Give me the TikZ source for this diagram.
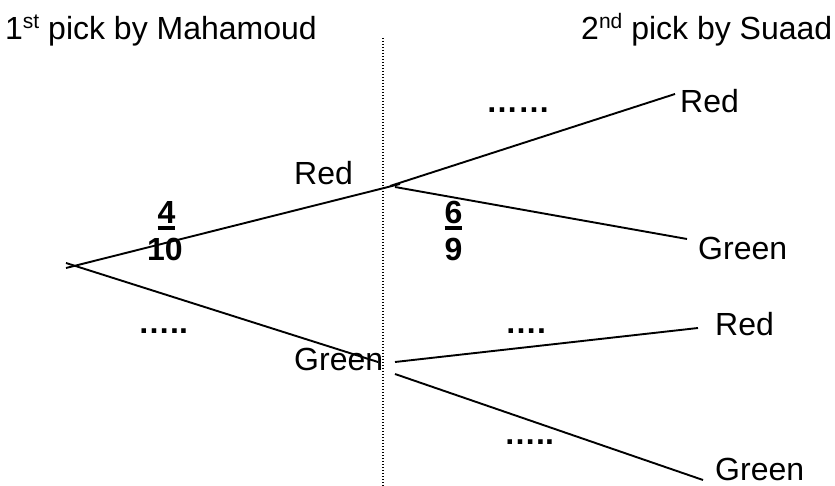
\documentclass[tikz,border=0pt]{standalone}
\usepackage{fontspec}
\setmainfont{Liberation Sans}
% numerator with a thick bar under it
\newcommand\barnum[1]{\setbox0\hbox{#1}\rlap{\rule[-6pt]{\wd0}{3.5pt}}\box0}
\begin{document}
\begin{tikzpicture}[x=1pt,y=-1pt,
  lbl/.style={anchor=base west,inner sep=0pt,font=\fontsize{32}{38}\selectfont},
  num/.style={anchor=base,inner sep=0pt,font=\fontsize{32}{38}\selectfont\bfseries},
  dots/.style={anchor=base west,inner sep=0pt,font=\fontsize{32}{38}\selectfont\bfseries},
  branch/.style={line width=1.9pt},
  divider/.style={line width=1.2pt,dash pattern=on 1.2pt off 1.8pt}]
\useasboundingbox (0,0) rectangle (835,486);

% column headings
\node[lbl] (h1) at (5,40) {1\raisebox{11pt}{\fontsize{21}{21}\selectfont st} pick by Mahamoud};
\node[lbl] (h2) at (581,40) {2\raisebox{11pt}{\fontsize{21}{21}\selectfont nd} pick by Suaad};

% dividing line between the two picks
\coordinate (dt) at (383,38);
\coordinate (db) at (383,486);
\draw[divider] (dt) -- (db);

% outcome labels
\node[lbl] (r1) at (294,185) {Red};
\node[lbl] (g1) at (294,370) {Green};
\node[lbl] (rr) at (680,113) {Red};
\node[lbl] (rg) at (698,260) {Green};
\node[lbl] (gr) at (715,335) {Red};
\node[lbl] (gg) at (715,480) {Green};

% branch end points
\coordinate (a0) at (66,268);  \coordinate (a1) at (400,184);
\coordinate (b0) at (66,263);  \coordinate (b1) at (378,362);
\coordinate (ru0) at (390,186); \coordinate (ru1) at (675,94);
\coordinate (rd0) at (395,187); \coordinate (rd1) at (687,239);
\coordinate (gu0) at (395,362); \coordinate (gu1) at (698,328);
\coordinate (gd0) at (395,374); \coordinate (gd1) at (703,480);

% first pick
\draw[branch] (a0) -- (a1);
\draw[branch] (b0) -- (b1);
% second pick after Red
\draw[branch] (ru0) -- (ru1);
\draw[branch] (rd0) -- (rd1);
% second pick after Green
\draw[branch] (gu0) -- (gu1);
\draw[branch] (gd0) -- (gd1);

% probabilities
\node[num] (p1n) at (166.5,224) {\barnum{4}};
\node[num] (p1d) at (165,261) {10};
\node[num] (p2n) at (453.5,224) {\barnum{6}};
\node[num] (p2d) at (453.5,261) {9};

% blanks to fill in
\node[dots] (q1) at (486,113) {……};
\node[dots] (q2) at (138,334) {…..};
\node[dots] (q3) at (505,334) {….};
\node[dots] (q4) at (504,444) {…..};
\end{tikzpicture}
\end{document}
